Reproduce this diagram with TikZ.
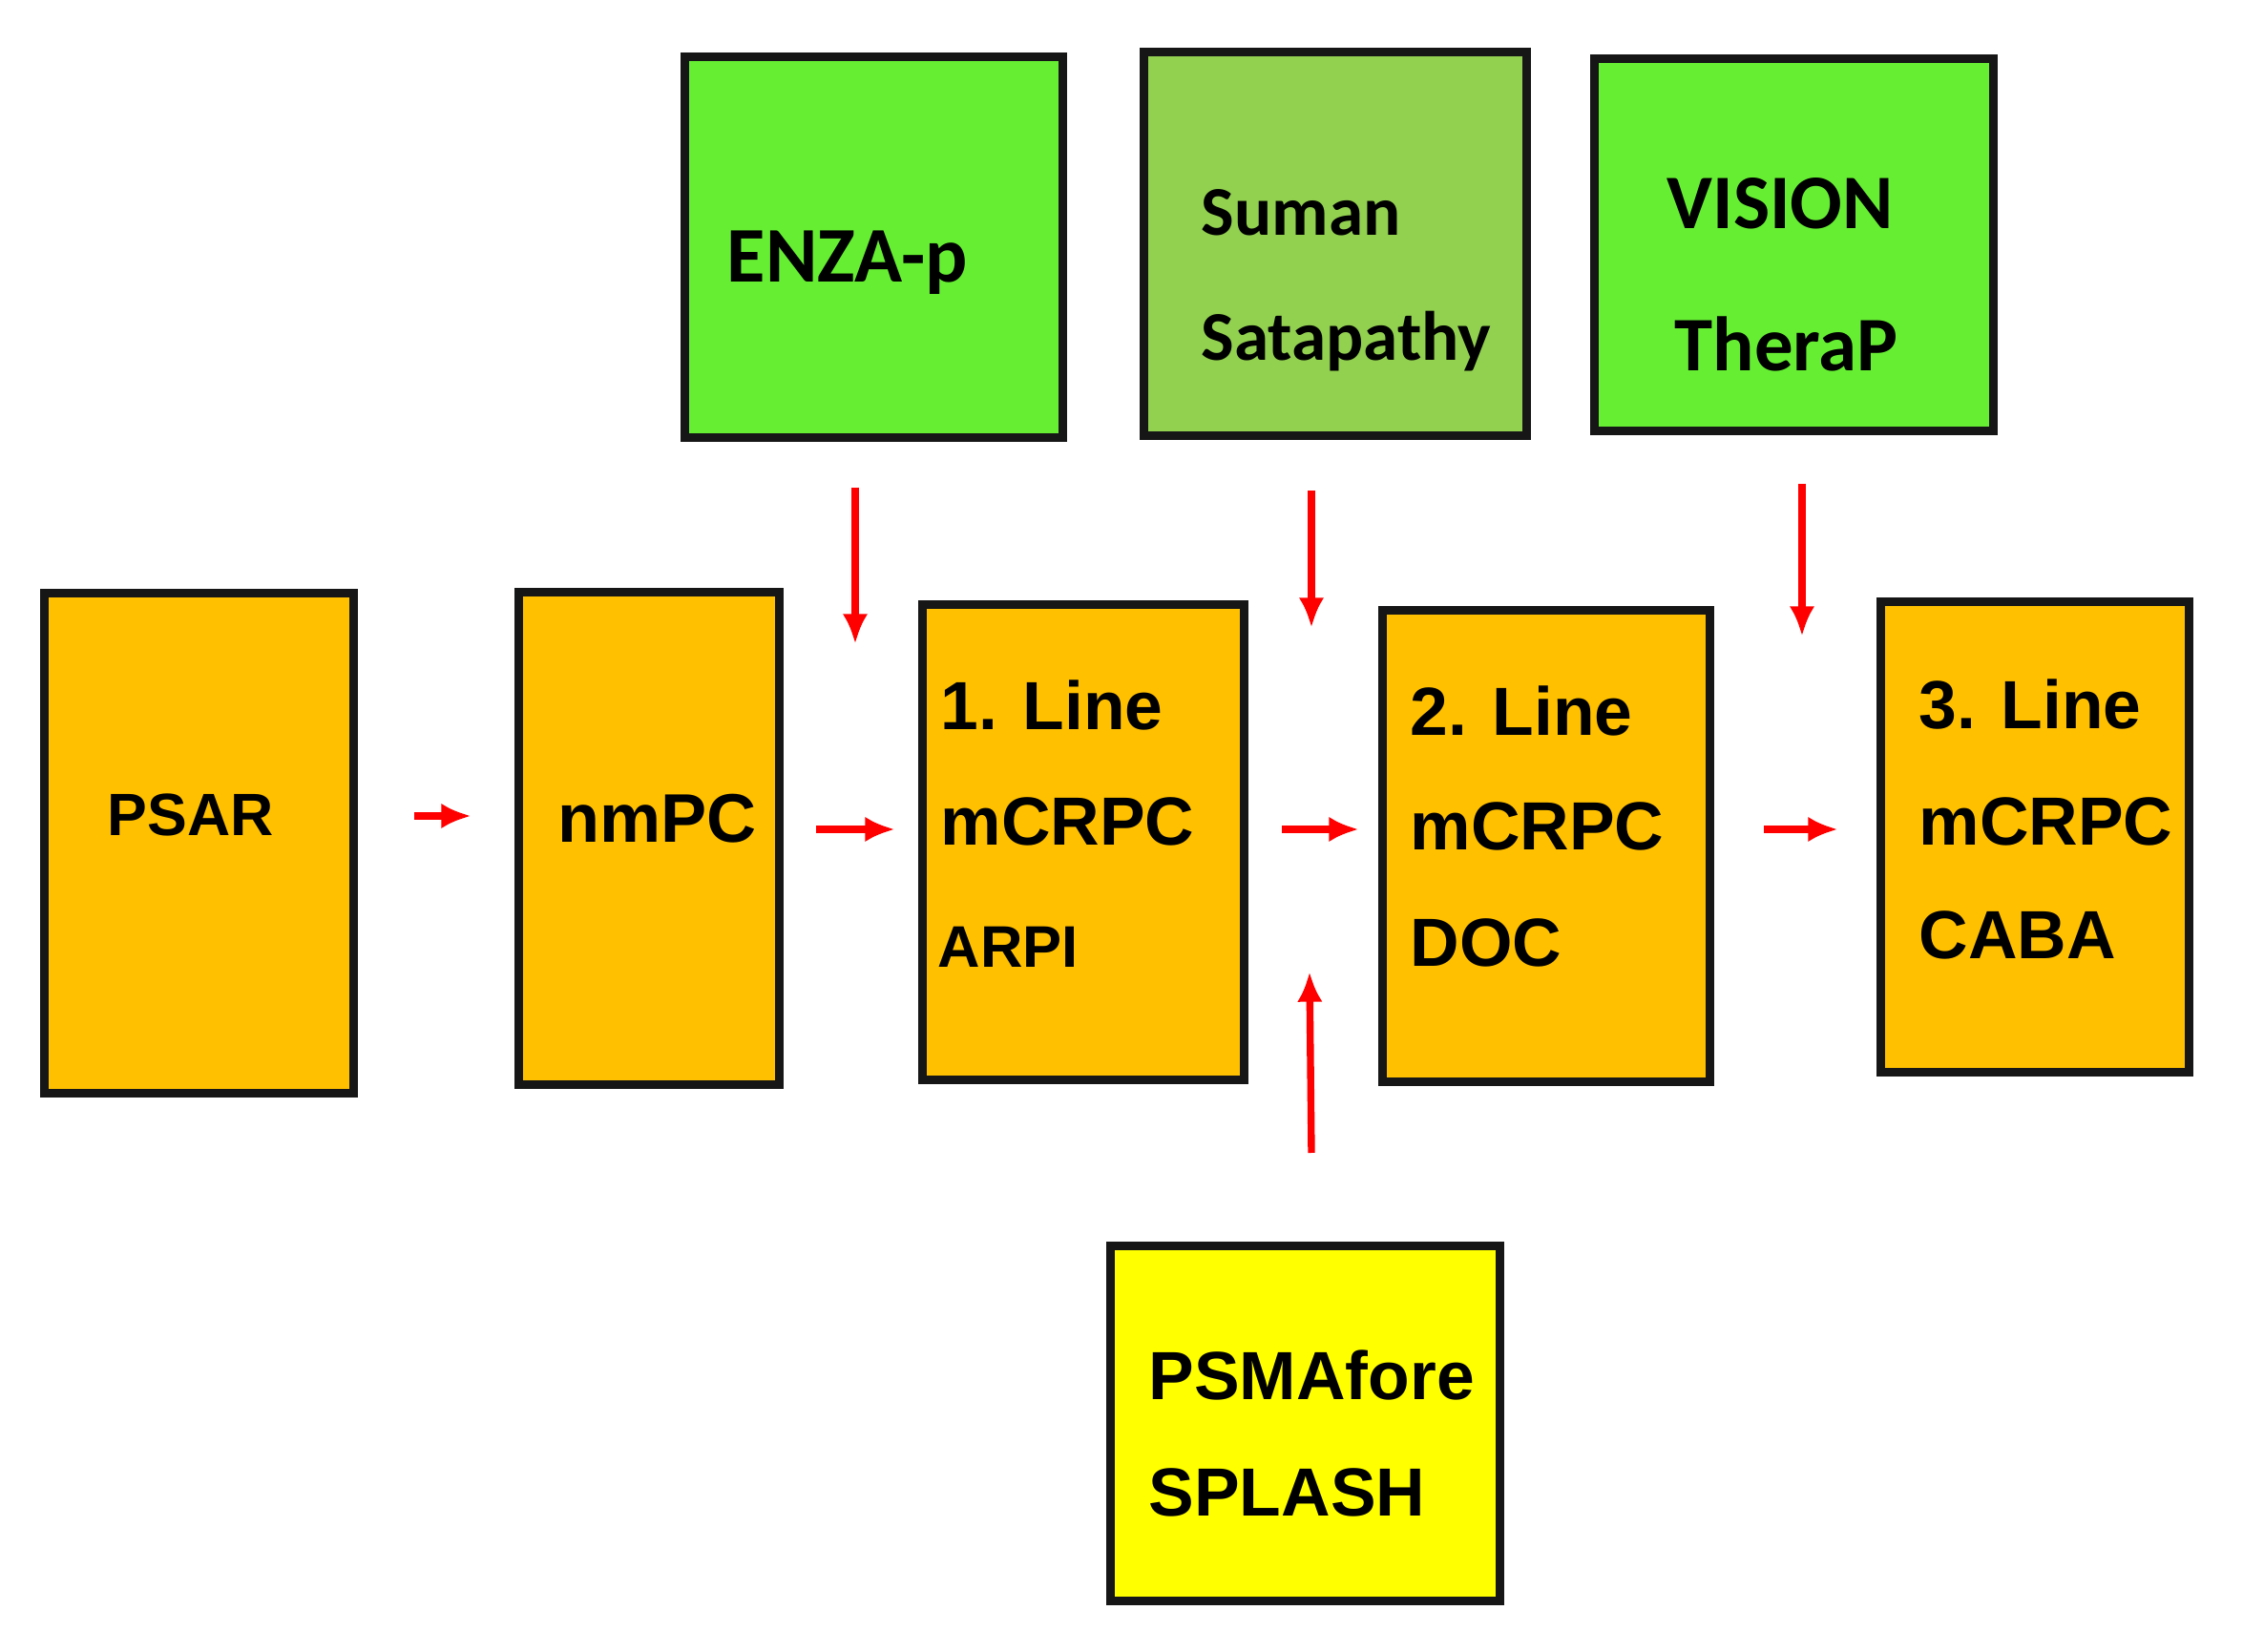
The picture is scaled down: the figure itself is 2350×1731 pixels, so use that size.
\documentclass[tikz,border=0pt]{standalone}
\usepackage{fontspec}
\setmainfont{Liberation Sans}
\newfontfamily\carlito{Carlito}
\usetikzlibrary{arrows.meta}

\definecolor{stageorange}{HTML}{FFC000}
\definecolor{trialgreen}{HTML}{66EE33}
\definecolor{palegreen}{HTML}{92D050}
\definecolor{trialyellow}{HTML}{FFFF00}
\definecolor{edgegray}{HTML}{161616}

\tikzset{
	box/.style={draw=edgegray, line width=2.6pt, inner sep=0pt},
	txt/.style={anchor=base west, inner sep=0pt, font=\bfseries\fontsize{#1}{#1}\selectfont},
	ctxt/.style={anchor=base west, inner sep=0pt, font=\carlito\bfseries\fontsize{#1}{#1}\selectfont},
	flow/.style={draw=red, line width=2.1pt, -{Latex[length=9pt,width=7.5pt]}}
}

\begin{document}
\begin{tikzpicture}[x=0.01cm, y=-0.01cm]
			\useasboundingbox (0,0) rectangle (2350,1731);
			%%%	Stages
			\node[box, fill=stageorange, minimum width=3.23cm, minimum height=5.23cm] (psar) at (208.5,883.5) {};
			\node[box, fill=stageorange, minimum width=2.72cm, minimum height=5.15cm] (nmpc) at (680,878.5) {};
			\node[box, fill=stageorange, minimum width=3.36cm, minimum height=4.97cm] (line1) at (1135,882.5) {};
			\node[box, fill=stageorange, minimum width=3.42cm, minimum height=4.93cm] (line2) at (1620,886.5) {};
			\node[box, fill=stageorange, minimum width=3.22cm, minimum height=4.92cm] (line3) at (2132,877) {};
			%%%	Trials
			\node[box, fill=trialgreen, minimum width=3.95cm, minimum height=3.98cm] (enza) at (915.5,259) {};
			\node[box, fill=palegreen, minimum width=4.00cm, minimum height=4.01cm] (suman) at (1399,255.5) {};
			\node[box, fill=trialgreen, minimum width=4.17cm, minimum height=3.89cm] (vision) at (1879.5,256.5) {};
			\node[box, fill=trialyellow, minimum width=4.07cm, minimum height=3.71cm] (psma) at (1367.5,1491.5) {};
			%%%	Texts
			\node[txt=17.8] (psar-t) at (112,876) {PSAR};
			\node[txt=20.5] (nmpc-t) at (584,883) {nmPC};
			\node[txt=20.3] (line1-a) at (985,765) {1. Line};
			\node[txt=20.3] (line1-b) at (985,886) {mCRPC};
			\node[txt=17.5] (line1-c) at (982,1014) {ARPI};
			\node[txt=20.3] (line2-a) at (1477,771) {2. Line};
			\node[txt=20.3] (line2-b) at (1477,891) {mCRPC};
			\node[txt=20.3] (line2-c) at (1477,1013) {DOC};
			\node[txt=20.3] (line3-a) at (2010,764) {3. Line};
			\node[txt=20.3] (line3-b) at (2010,886) {mCRPC};
			\node[txt=20.3] (line3-c) at (2010,1005) {CABA};
			\node[ctxt=23.5] (enza-t) at (761,296) {ENZA-p};
			\node[ctxt=20.8] (suman-a) at (1258,247) {Suman};
			\node[ctxt=20.8] (suman-b) at (1258,378) {Satapathy};
			\node[ctxt=23] (vision-a) at (1746,240) {VISION};
			\node[ctxt=23] (vision-b) at (1754,389) {TheraP};
			\node[txt=20.3] (psma-a) at (1203,1466) {PSMAfore};
			\node[txt=20.3] (psma-b) at (1203,1588) {SPLASH};
			%%%	Arrows
			\coordinate (psar-out) at (434,855);
			\coordinate (nmpc-in) at (494,855);
			\coordinate (nmpc-out) at (855,869);
			\coordinate (line1-in) at (938,869);
			\coordinate (line1-out) at (1343,869);
			\coordinate (line2-in) at (1424,869);
			\coordinate (line2-out) at (1848,869);
			\coordinate (line3-in) at (1926,869);
			\coordinate (enza-out) at (896,511);
			\coordinate (enza-in) at (896,675);
			\coordinate (suman-out) at (1374,514);
			\coordinate (suman-in) at (1374,658);
			\coordinate (vision-out) at (1888,507);
			\coordinate (vision-in) at (1888,667);
			\coordinate (psma-out) at (1374,1208);
			\coordinate (psma-in) at (1372,1018);
			\draw[flow] (psar-out) -- (nmpc-in);
			\draw[flow] (nmpc-out) -- (line1-in);
			\draw[flow] (line1-out) -- (line2-in);
			\draw[flow] (line2-out) -- (line3-in);
			\draw[flow] (enza-out) -- (enza-in);
			\draw[flow] (suman-out) -- (suman-in);
			\draw[flow] (vision-out) -- (vision-in);
			\draw[flow] (psma-out) -- (psma-in);
\end{tikzpicture}
\end{document}
